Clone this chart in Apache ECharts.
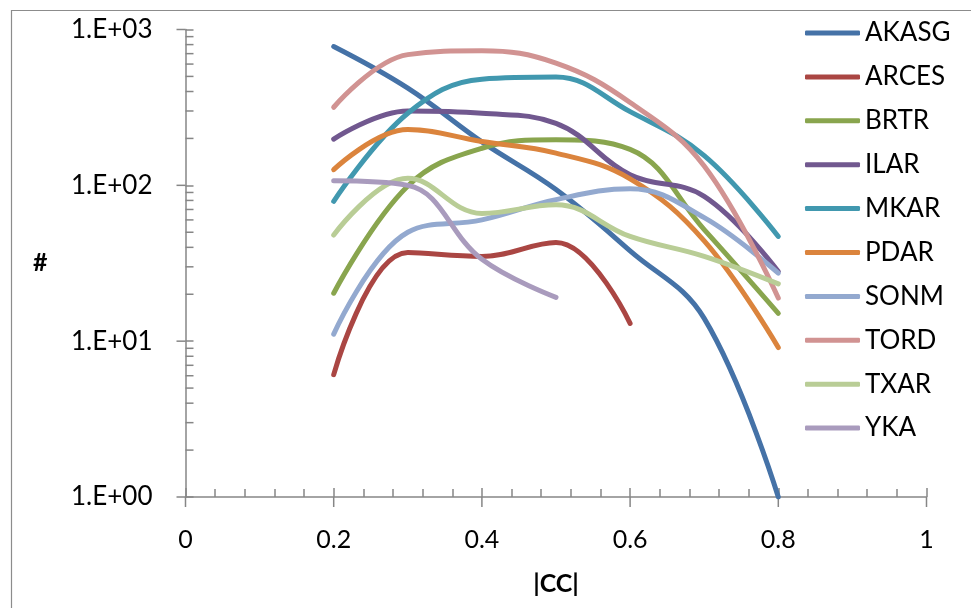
<!DOCTYPE html>
<html>
<head>
<meta charset="utf-8">
<script src="https://cdn.jsdelivr.net/npm/echarts@6/dist/echarts.min.js"></script>
<style>
html,body{margin:0;padding:0;background:#fff;}
#chart{width:971px;height:608px;}
</style>
</head>
<body>
<div id="chart"></div>
<script>
// ---- data ----
const ccValues = [0.2, 0.3, 0.4, 0.5, 0.6, 0.7, 0.8];
const AKASG = [777, 420, 190, 94, 38, 14, 1];
const ARCES = [6.1, 37, 35, 43, 13];
const BRTR  = [20.3, 99, 173, 196, 170, 52, 15.1];
const ILAR  = [198, 300, 290, 250, 117, 85, 28];
const MKAR  = [79, 290, 480, 495, 297, 155, 47];
const PDAR  = [126, 228, 191, 161, 110, 44, 9.1];
const SONM  = [11.1, 50, 60, 81, 95, 62, 27.3];
const TORD  = [317, 690, 730, 608, 340, 133, 18.9];
const TXAR  = [48, 111, 66, 75, 47, 35, 23.3];
const YKA   = [107, 100, 33.5, 19.1];
const seriesNames = ['AKASG','ARCES','BRTR','ILAR','MKAR','PDAR','SONM','TORD','TXAR','YKA'];
const seriesValues = [AKASG, ARCES, BRTR, ILAR, MKAR, PDAR, SONM, TORD, TXAR, YKA];
const colors = ['#4572A7','#AA4643','#89A54E','#71588F','#4198AF','#DB843D','#93A9CF','#D19392','#B9CD96','#A99BBD'];
const yMajorTicks = [1, 10, 100, 1000];
const yMinorTicks = [2,3,4,5,6,7,8,9,20,30,40,50,60,70,80,90,200,300,400,500,600,700,800,900];
const xMajorTicks = [0, 0.2, 0.4, 0.6, 0.8, 1];

const FONT = 'Lato';
const AXIS_COLOR = '#868686';

const lineSeries = seriesNames.map((name, i) => ({
  name: name,
  type: 'line',
  smooth: 0.4,
  symbol: 'none',
  data: seriesValues[i].map((v, k) => [ccValues[k], v]),
  lineStyle: { width: 5, color: colors[i], cap: 'round', join: 'round' },
  itemStyle: { color: colors[i] },
  emphasis: { disabled: true },
  z: 3 + i
}));

// minor ticks on log y axis (inside) and outside part of major ticks
const tickSeries = [
  {
    type: 'custom', silent: true, clip: false, z: 2,
    data: yMinorTicks.map(v => [0, v]),
    renderItem: function (params, api) {
      const p = api.coord([0, api.value(1)]);
      return { type: 'line', shape: { x1: p[0], y1: p[1], x2: p[0] + 8, y2: p[1] },
               style: { stroke: AXIS_COLOR, lineWidth: 1.5 } };
    }
  },
  {
    type: 'custom', silent: true, clip: false, z: 2,
    data: yMajorTicks.map(v => [0, v]),
    renderItem: function (params, api) {
      const p = api.coord([0, api.value(1)]);
      return { type: 'line', shape: { x1: p[0] - 9, y1: p[1], x2: p[0], y2: p[1] },
               style: { stroke: AXIS_COLOR, lineWidth: 1.5 } };
    }
  },
  {
    type: 'custom', silent: true, clip: false, z: 2,
    data: xMajorTicks.map(v => [v, 1]),
    renderItem: function (params, api) {
      const p = api.coord([api.value(0), 1]);
      return { type: 'line', shape: { x1: p[0], y1: p[1], x2: p[0], y2: p[1] + 10 },
               style: { stroke: AXIS_COLOR, lineWidth: 1.5 } };
    }
  }
];

const chart = echarts.init(document.getElementById('chart'), null, { renderer: 'canvas' });
chart.setOption({
  animation: false,
  backgroundColor: '#ffffff',
  textStyle: { fontFamily: FONT },
  graphic: [{
    type: 'rect', left: 9, top: 8,
    shape: { width: 1100, height: 800 },
    style: { fill: 'none', stroke: '#8c8c8c', lineWidth: 1.2 },
    silent: true, z: -1
  }],
  grid: { left: 185.5, right: 44.5, top: 29.5, bottom: 111, containLabel: false },
  legend: {
    data: seriesNames,
    orient: 'vertical',
    left: 805, top: 20,
    padding: 0,
    itemWidth: 55, itemHeight: 5,
    itemGap: 17.9,
    icon: 'roundRect',
    textStyle: { fontFamily: FONT, fontSize: 26, color: '#000', lineHeight: 26, padding: [0,0,0,0] },
    selectedMode: false
  },
  xAxis: {
    type: 'value',
    min: 0, max: 1, interval: 0.2,
    name: '|CC|',
    nameLocation: 'middle',
    nameGap: 74,
    nameTextStyle: { fontFamily: FONT, fontSize: 25, fontWeight: 'bold', color: '#000' },
    axisLine: { show: true, onZero: false, lineStyle: { color: AXIS_COLOR, width: 1.5 } },
    axisTick: { show: true, inside: true, length: 9, lineStyle: { color: AXIS_COLOR, width: 1.5 } },
    minorTick: { show: true, splitNumber: 5, length: 8, lineStyle: { color: AXIS_COLOR, width: 1.5 } },
    splitLine: { show: false },
    axisLabel: { fontFamily: FONT, fontSize: 25, color: '#000', margin: 30,
                 formatter: v => String(Math.round(v * 10) / 10) }
  },
  yAxis: {
    type: 'log', logBase: 10,
    min: 1, max: 1000,
    name: '#',
    nameLocation: 'middle',
    nameRotate: 0,
    nameGap: 138,
    nameTextStyle: { fontFamily: FONT, fontSize: 25, fontWeight: 'bold', color: '#000' },
    axisLine: { show: true, lineStyle: { color: AXIS_COLOR, width: 1.5 } },
    axisTick: { show: true, inside: true, length: 8, lineStyle: { color: AXIS_COLOR, width: 1.5 } },
    minorTick: { show: false },
    splitLine: { show: false },
    axisLabel: { fontFamily: FONT, fontSize: 26, color: '#000', margin: 33,
                 formatter: v => '1.E+' + String(Math.round(Math.log10(v))).padStart(2, '0') }
  },
  series: lineSeries.concat(tickSeries)
});
</script>
</body>
</html>
